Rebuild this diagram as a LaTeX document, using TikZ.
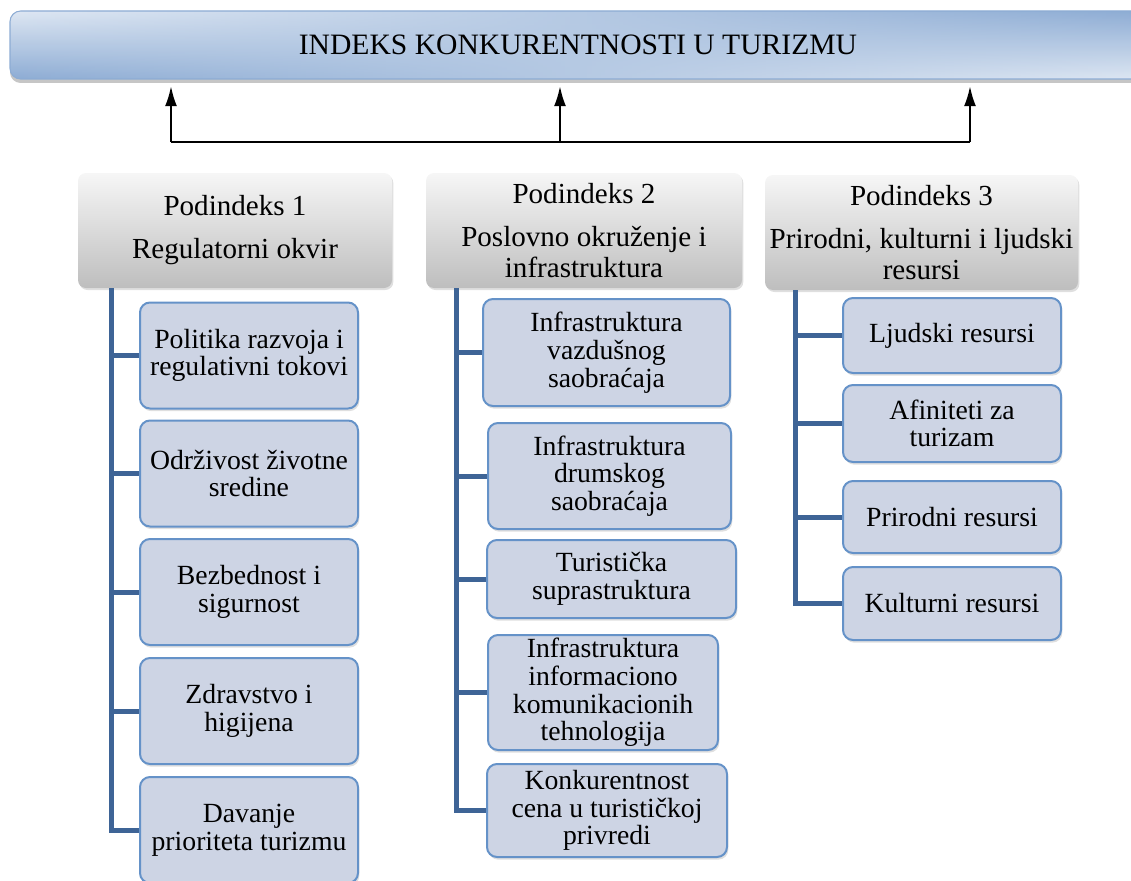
\documentclass[tikz,border=0pt]{standalone}
\usepackage{fontspec}
\setmainfont{Liberation Serif}
\usepackage{tikz}
\usetikzlibrary{shadows,fadings,arrows.meta}
\definecolor{bannerlight}{RGB}{222,231,243}
\definecolor{bannerblue}{RGB}{141,172,212}
\definecolor{podtop}{RGB}{246,246,246}
\definecolor{podbottom}{RGB}{190,190,190}
\definecolor{leaffill}{RGB}{205,212,228}
\definecolor{leafedge}{RGB}{101,146,200}
\definecolor{branchblue}{RGB}{62,100,150}
\newcommand{\leaffont}{\fontsize{20.8}{20.8}\selectfont}
\newcommand{\podfont}{\fontsize{21.8}{23.2}\selectfont}
\newcommand{\bannerfont}{\fontsize{22.2}{24}\selectfont}
\tikzfading[name=bannerfade, left color=transparent!100, middle color=transparent!45, right color=transparent!0]
\tikzset{
banner/.style={rounded corners=8pt, draw=bannerblue, line width=0.8pt, top color=bannerlight, bottom color=bannerblue, % left half
  path picture={\path[top color=bannerblue, bottom color=bannerlight, path fading=bannerfade] (path picture bounding box.south west) rectangle (path picture bounding box.north east);}, % right half
  drop shadow={opacity=0.45, shadow xshift=0pt, shadow yshift=-3pt}, font=\bannerfont},
podbox/.style={rounded corners=6pt, top color=podtop, bottom color=podbottom, align=center, font=\podfont, drop shadow={opacity=0.25, shadow xshift=1pt, shadow yshift=-1.5pt}},
leaf/.style={rounded corners=7.5pt, draw=leafedge, line width=1.5pt, fill=leaffill, align=center, inner sep=2pt, font=\leaffont, drop shadow={opacity=0.25, shadow xshift=1pt, shadow yshift=-2pt}},
trunk/.style={draw=branchblue, line width=3.75pt},
uparrow/.style={-{Latex[length=15pt,width=9pt]}, line width=1.5pt, shorten >=5pt},
}

\begin{document}
\begin{tikzpicture}[x=0.75pt,y=0.75pt,yscale=-1,xscale=1]
\useasboundingbox (0,0) rectangle (1131,881);
%Banner
\node[banner, minimum width=852pt, minimum height=51pt] (ind) at (578,45) {INDEKS KONKURENTNOSTI U TURIZMU};
%Podindeks boxes
\node[podbox, minimum width=235.5pt, minimum height=86.25pt] (pod1) at (235,230.5) {Podindeks 1\\[9pt]Regulatorni okvir};
\node[podbox, minimum width=237pt, minimum height=86.25pt] (pod2) at (584,230.5) {Podindeks 2\\[9pt]Poslovno okruženje i\\infrastruktura};
\node[podbox, minimum width=234.75pt, minimum height=86.25pt] (pod3) at (921.5,232.5) {Podindeks 3\\[9pt]Prirodni, kulturni i ljudski\\resursi};
%Column 1
\node[leaf, minimum width=163.5pt, minimum height=79.5pt] (politika) at (249,355.5) {Politika razvoja i\\regulativni tokovi};
\node[leaf, minimum width=163.5pt, minimum height=79.5pt] (odrzivost) at (249,473.5) {Održivost životne\\sredine};
\node[leaf, minimum width=163.5pt, minimum height=79.5pt] (bezbednost) at (249,592) {Bezbednost i\\sigurnost};
\node[leaf, minimum width=163.5pt, minimum height=79.5pt] (zdravstvo) at (249,711) {Zdravstvo i\\higijena};
\node[leaf, minimum width=163.5pt, minimum height=79.5pt] (davanje) at (249,830) {Davanje\\prioriteta turizmu};
%Column 2
\node[leaf, minimum width=185.25pt, minimum height=80.25pt] (vazdusni) at (606.5,352.5) {Infrastruktura\\vazdušnog\\saobraćaja};
\node[leaf, minimum width=182.25pt, minimum height=79.5pt] (drumski) at (609.5,476) {Infrastruktura\\drumskog\\saobraćaja};
\node[leaf, minimum width=186.75pt, minimum height=58.5pt] (turisticka) at (611.5,579) {Turistička\\suprastruktura};
\node[leaf, minimum width=172.5pt, minimum height=86.25pt] (ikt) at (603,692.5) {Infrastruktura\\informaciono\\komunikacionih\\tehnologija};
\node[leaf, minimum width=180pt, minimum height=69.75pt] (cene) at (607,810.5) {Konkurentnost\\cena u turističkoj\\privredi};
%Column 3
\node[leaf, minimum width=163.5pt, minimum height=56.25pt] (ljudski) at (952,335.5) {Ljudski resursi};
\node[leaf, minimum width=163.5pt, minimum height=57.75pt] (afiniteti) at (952,423.5) {Afiniteti za\\turizam};
\node[leaf, minimum width=163.5pt, minimum height=54pt] (prirodni) at (952,517) {Prirodni resursi};
\node[leaf, minimum width=163.5pt, minimum height=54.75pt] (kulturni) at (952,603.5) {Kulturni resursi};
%Straight Lines
\coordinate (bar1) at (171,142);
\coordinate (bar2) at (560,142);
\coordinate (bar3) at (970,142);
\draw[line width=1.5pt] (bar1) -- (bar3);
\foreach \b in {bar1,bar2,bar3}
  \draw[uparrow] (\b) -- (\b |- ind.south);
%Tree lines
\coordinate (trunk1) at (111,288);
\coordinate (trunk2) at (456,288);
\coordinate (trunk3) at (795,290);
\foreach \n in {politika,odrzivost,bezbednost,zdravstvo,davanje}
  \draw[trunk] (trunk1) |- (\n.west);
\foreach \n in {vazdusni,drumski,turisticka,ikt,cene}
  \draw[trunk] (trunk2) |- (\n.west);
\foreach \n in {ljudski,afiniteti,prirodni,kulturni}
  \draw[trunk] (trunk3) |- (\n.west);
\end{tikzpicture}
\end{document}
